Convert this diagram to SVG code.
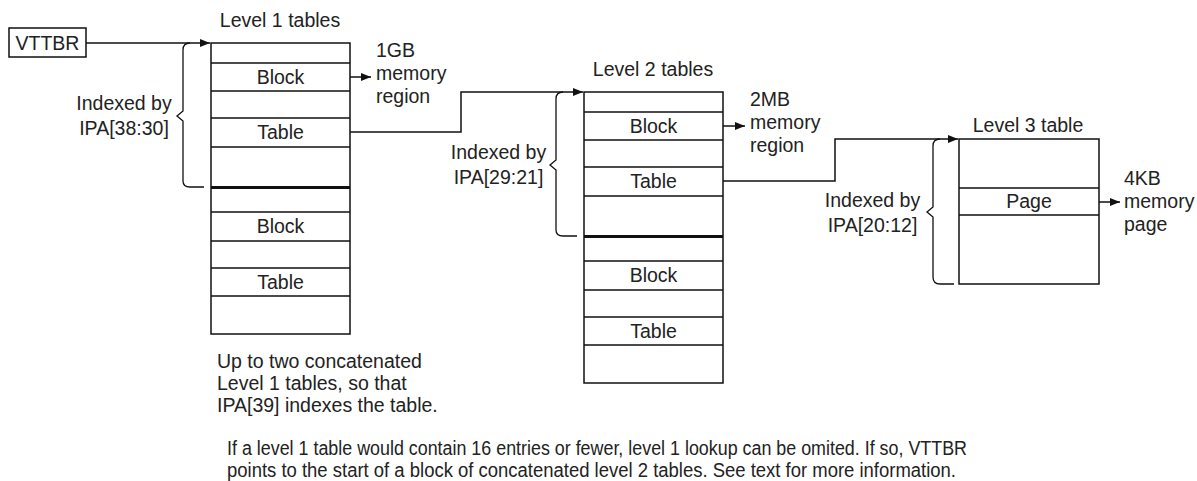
<svg xmlns="http://www.w3.org/2000/svg" width="1197" height="481" viewBox="0 0 1197 481">
<defs>
<style>
text{font-family:"Liberation Sans",Arial,sans-serif;font-size:19.5px;fill:#222}
.c{text-anchor:middle}
.box{fill:#fff;stroke:#111;stroke-width:1.5}
.ln{stroke:#111;stroke-width:1.5;fill:none}
.thick{stroke:#111;stroke-width:3;fill:none}
.br{stroke:#111;stroke-width:1.3;fill:none}
</style>
<marker id="ah" viewBox="0 0 10 8" refX="10" refY="4" markerWidth="10" markerHeight="8" markerUnits="userSpaceOnUse" orient="auto">
<path d="M0,0 L10,4 L0,8 Z" fill="#111"/>
</marker>
</defs>
<rect width="1197" height="481" fill="#fff"/>

<g id="vttbr">
<rect class="box" x="9" y="28" width="77" height="29"/>
<text class="c" x="47.5" y="50">VTTBR</text>
</g>

<g id="level1">
<text class="c" x="280" y="27">Level 1 tables</text>
<rect class="box" x="211" y="43" width="139" height="291"/>
<path class="ln" d="M211,63H350M211,91H350M211,118H350M211,147H350M211,212H350M211,241H350M211,268H350M211,296H350"/>
<path class="thick" d="M211,187.5H350"/>
<text class="c" x="280.5" y="84">Block</text>
<text class="c" x="280.5" y="139">Table</text>
<text class="c" x="280.5" y="233">Block</text>
<text class="c" x="280.5" y="289">Table</text>
<path class="br" d="M190,43 Q183,43 183,50 L183,111 L177,116 L183,121 L183,181 Q183,187 190,187 L204,187"/>
<text class="c" x="124" y="110">Indexed by</text>
<text class="c" x="124" y="135">IPA[38:30]</text>
<text x="376" y="57">1GB</text>
<text x="376" y="80">memory</text>
<text x="376" y="103">region</text>
<text x="217" y="368">Up to two concatenated</text>
<text x="217" y="390">Level 1 tables, so that</text>
<text x="217" y="412">IPA[39] indexes the table.</text>
</g>

<g id="level2">
<text class="c" x="653" y="76">Level 2 tables</text>
<rect class="box" x="584" y="92" width="139" height="291"/>
<path class="ln" d="M584,112H723M584,140H723M584,167H723M584,196H723M584,261H723M584,290H723M584,317H723M584,345H723"/>
<path class="thick" d="M584,236.5H723"/>
<text class="c" x="653.5" y="133">Block</text>
<text class="c" x="653.5" y="188">Table</text>
<text class="c" x="653.5" y="282">Block</text>
<text class="c" x="653.5" y="338">Table</text>
<path class="br" d="M563,92 Q556,92 556,99 L556,160 L550,165 L556,170 L556,230 Q556,236 563,236 L577,236"/>
<text class="c" x="498.5" y="159">Indexed by</text>
<text class="c" x="498.5" y="184">IPA[29:21]</text>
<text x="750" y="106">2MB</text>
<text x="750" y="129">memory</text>
<text x="750" y="152">region</text>
</g>

<g id="level3">
<text class="c" x="1028" y="132">Level 3 table</text>
<rect class="box" x="959" y="139" width="140" height="145"/>
<path class="ln" d="M959,188H1099M959,215H1099"/>
<text class="c" x="1029" y="208">Page</text>
<path class="br" d="M940,139 Q933,139 933,146 L933,207 L927,212 L933,217 L933,277 Q933,284 940,284 L954,284"/>
<text class="c" x="872.5" y="207">Indexed by</text>
<text class="c" x="872.5" y="232">IPA[20:12]</text>
<text x="1124" y="185">4KB</text>
<text x="1124" y="208">memory</text>
<text x="1124" y="231">page</text>
</g>

<g id="note">
<text x="227" y="455" font-size="17" textLength="740" lengthAdjust="spacingAndGlyphs">If a level 1 table would contain 16 entries or fewer, level 1 lookup can be omited. If so, VTTBR</text>
<text x="227" y="477" font-size="17" textLength="729" lengthAdjust="spacingAndGlyphs">points to the start of a block of concatenated level 2 tables. See text for more information.</text>
</g>

<g id="connectors">
<path class="ln" d="M86,43H210" marker-end="url(#ah)"/>
<path class="ln" d="M350,77H371" marker-end="url(#ah)"/>
<path class="ln" d="M350,132H461V92H583" marker-end="url(#ah)"/>
<path class="ln" d="M723,126H745" marker-end="url(#ah)"/>
<path class="ln" d="M723,181H835V139H958" marker-end="url(#ah)"/>
<path class="ln" d="M1099,202H1120" marker-end="url(#ah)"/>
</g>
</svg>
